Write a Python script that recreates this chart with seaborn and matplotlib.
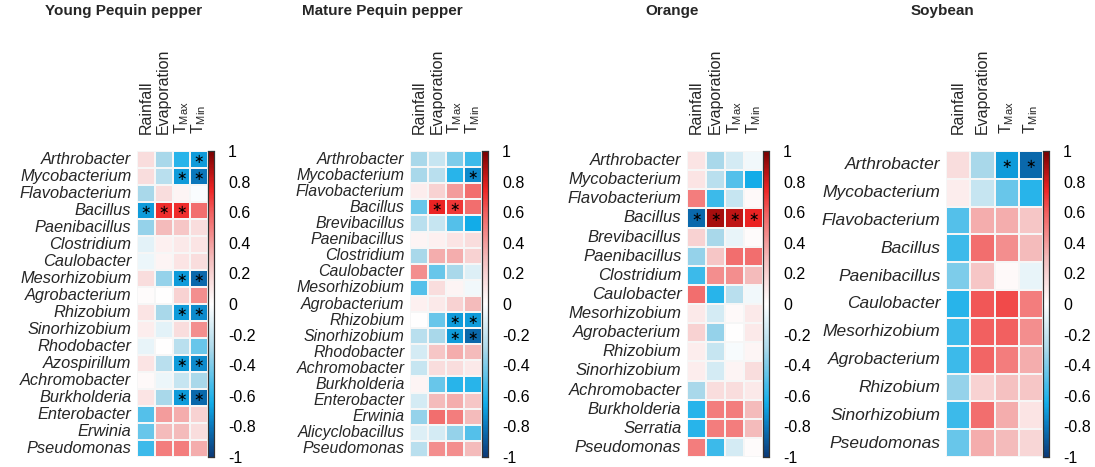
import numpy as np
import pandas as pd
import seaborn as sns
import matplotlib.pyplot as plt
from matplotlib.colors import LinearSegmentedColormap

sns.set_style("white")
plt.rcParams["font.family"] = ["Liberation Sans", "DejaVu Sans"]
plt.rcParams["mathtext.fontset"] = "custom"
plt.rcParams["mathtext.rm"] = "Liberation Sans"

# climate variables (columns)
variables = ["Rainfall", "Evaporation", r"T$_{\mathrm{Max}}$", r"T$_{\mathrm{Min}}$"]

# Young Pequin pepper
young_genera = ["Arthrobacter", "Mycobacterium", "Flavobacterium", "Bacillus", "Paenibacillus",
                "Clostridium", "Caulobacter", "Mesorhizobium", "Agrobacterium", "Rhizobium",
                "Sinorhizobium", "Rhodobacter", "Azospirillum", "Achromobacter", "Burkholderia",
                "Enterobacter", "Erwinia", "Pseudomonas"]
young_vals = [[0.15, -0.30, -0.60, -0.70],
              [0.15, -0.25, -0.70, -0.80],
              [-0.30, 0.15, 0.05, -0.02],
              [-0.70, 0.72, 0.72, 0.55],
              [-0.35, 0.30, 0.25, 0.15],
              [-0.10, 0.07, 0.10, 0.12],
              [-0.07, 0.05, 0.12, 0.15],
              [0.15, -0.35, -0.70, -0.85],
              [0.02, 0.00, 0.20, 0.45],
              [0.12, -0.30, -0.70, -0.75],
              [0.08, -0.10, 0.15, 0.45],
              [-0.08, 0.00, -0.25, -0.45],
              [0.12, -0.25, -0.70, -0.75],
              [0.03, -0.07, -0.20, -0.30],
              [0.12, -0.30, -0.70, -0.85],
              [-0.50, 0.40, 0.35, 0.20],
              [-0.45, 0.30, 0.30, 0.15],
              [-0.55, 0.50, 0.50, 0.35]]
young_sig = [[0, 0, 0, 1], [0, 0, 1, 1], [0, 0, 0, 0], [1, 1, 1, 0], [0, 0, 0, 0],
             [0, 0, 0, 0], [0, 0, 0, 0], [0, 0, 1, 1], [0, 0, 0, 0], [0, 0, 1, 1],
             [0, 0, 0, 0], [0, 0, 0, 0], [0, 0, 1, 1], [0, 0, 0, 0], [0, 0, 1, 1],
             [0, 0, 0, 0], [0, 0, 0, 0], [0, 0, 0, 0]]

# Mature Pequin pepper
mature_genera = ["Arthrobacter", "Mycobacterium", "Flavobacterium", "Bacillus", "Brevibacillus",
                 "Paenibacillus", "Clostridium", "Caulobacter", "Mesorhizobium", "Agrobacterium",
                 "Rhizobium", "Sinorhizobium", "Rhodobacter", "Achromobacter", "Burkholderia",
                 "Enterobacter", "Erwinia", "Alicyclobacillus", "Pseudomonas"]
mature_vals = [[-0.30, -0.20, -0.40, -0.55],
               [-0.30, -0.25, -0.60, -0.75],
               [0.08, 0.20, 0.40, 0.55],
               [-0.45, 0.75, 0.70, 0.55],
               [-0.25, -0.20, -0.50, -0.65],
               [0.05, 0.07, 0.12, 0.15],
               [-0.30, 0.35, 0.35, 0.20],
               [0.45, -0.45, -0.30, -0.12],
               [-0.50, 0.15, 0.05, -0.05],
               [0.07, 0.10, 0.20, 0.30],
               [0.00, -0.45, -0.70, -0.70],
               [-0.25, -0.30, -0.70, -0.85],
               [-0.15, 0.25, 0.35, 0.30],
               [-0.20, 0.15, 0.15, 0.10],
               [0.05, -0.45, -0.60, -0.60],
               [-0.15, 0.30, 0.35, 0.25],
               [-0.35, 0.55, 0.50, 0.30],
               [-0.12, -0.15, -0.35, -0.50],
               [-0.25, 0.45, 0.45, 0.30]]
mature_sig = [[0, 0, 0, 0], [0, 0, 0, 1], [0, 0, 0, 0], [0, 1, 1, 0], [0, 0, 0, 0],
              [0, 0, 0, 0], [0, 0, 0, 0], [0, 0, 0, 0], [0, 0, 0, 0], [0, 0, 0, 0],
              [0, 0, 1, 1], [0, 0, 1, 1], [0, 0, 0, 0], [0, 0, 0, 0], [0, 0, 0, 0],
              [0, 0, 0, 0], [0, 0, 0, 0], [0, 0, 0, 0], [0, 0, 0, 0]]

# Orange
orange_genera = ["Arthrobacter", "Mycobacterium", "Flavobacterium", "Bacillus", "Brevibacillus",
                 "Paenibacillus", "Clostridium", "Caulobacter", "Mesorhizobium", "Agrobacterium",
                 "Rhizobium", "Sinorhizobium", "Achromobacter", "Burkholderia", "Serratia",
                 "Pseudomonas"]
orange_vals = [[0.12, -0.30, -0.15, -0.05],
               [0.12, -0.25, -0.50, -0.65],
               [0.50, -0.55, -0.20, 0.03],
               [-0.85, 0.90, 0.85, 0.75],
               [0.20, -0.30, -0.08, 0.02],
               [-0.35, 0.25, 0.55, 0.55],
               [-0.55, 0.45, 0.45, 0.30],
               [0.55, -0.60, -0.25, -0.05],
               [0.10, -0.15, 0.03, 0.10],
               [0.20, -0.35, 0.00, 0.10],
               [0.08, -0.20, -0.03, 0.04],
               [0.08, -0.15, 0.05, 0.15],
               [-0.30, 0.15, 0.15, 0.10],
               [-0.60, 0.50, 0.50, 0.30],
               [-0.60, 0.50, 0.50, 0.30],
               [0.50, -0.55, -0.15, 0.02]]
orange_sig = [[0, 0, 0, 0], [0, 0, 0, 0], [0, 0, 0, 0], [1, 1, 1, 1], [0, 0, 0, 0],
              [0, 0, 0, 0], [0, 0, 0, 0], [0, 0, 0, 0], [0, 0, 0, 0], [0, 0, 0, 0],
              [0, 0, 0, 0], [0, 0, 0, 0], [0, 0, 0, 0], [0, 0, 0, 0], [0, 0, 0, 0],
              [0, 0, 0, 0]]

# Soybean
soy_genera = ["Arthrobacter", "Mycobacterium", "Flavobacterium", "Bacillus", "Paenibacillus",
              "Caulobacter", "Mesorhizobium", "Agrobacterium", "Rhizobium", "Sinorhizobium",
              "Pseudomonas"]
soy_vals = [[0.15, -0.30, -0.70, -0.85],
            [0.08, -0.20, -0.45, -0.60],
            [-0.50, 0.35, 0.35, 0.25],
            [-0.55, 0.55, 0.45, 0.30],
            [-0.40, 0.25, 0.03, -0.08],
            [-0.60, 0.62, 0.65, 0.50],
            [-0.55, 0.60, 0.60, 0.45],
            [-0.55, 0.58, 0.50, 0.35],
            [-0.35, 0.20, 0.28, 0.25],
            [-0.55, 0.55, 0.35, 0.12],
            [-0.45, 0.35, 0.30, 0.18]]
soy_sig = [[0, 0, 1, 1], [0, 0, 0, 0], [0, 0, 0, 0], [0, 0, 0, 0], [0, 0, 0, 0],
           [0, 0, 0, 0], [0, 0, 0, 0], [0, 0, 0, 0], [0, 0, 0, 0], [0, 0, 0, 0],
           [0, 0, 0, 0]]

titles = ["Young Pequin pepper", "Mature Pequin pepper", "Orange", "Soybean"]

# blue - white - red map, values -1..1 mapped to 0..1
cmap = LinearSegmentedColormap.from_list(
    "bwr_matlab",
    [(0.0, "#0b3a78"), (0.10, "#0a78bc"), (0.175, "#12aeea"), (0.35, "#aad8ea"),
     (0.5, "#ffffff"), (0.65, "#f4bcbc"), (0.80, "#f26060"), (0.875, "#ee2424"),
     (1.0, "#7a0000")])

W, H = 1095, 467
fig = plt.figure(figsize=(W / 100, H / 100), dpi=100)

# pixel boxes: heatmap left, right, colorbar right, title centre x, row label size
boxes = [(137, 208, 214, 124, 11.8),
         (410, 482, 488, 382, 11.4),
         (687, 763, 769, 672, 12.0),
         (946, 1043, 1049, 942, 12.5)]
top, bottom = 151, 457

panels = [(young_genera, young_vals, young_sig),
          (mature_genera, mature_vals, mature_sig),
          (orange_genera, orange_vals, orange_sig),
          (soy_genera, soy_vals, soy_sig)]

for (genera, vals, sig), (x0, x1, x2, tx, fs), title in zip(panels, boxes, titles):
    ax = fig.add_axes([x0 / W, 1 - bottom / H, (x1 - x0) / W, (bottom - top) / H])
    cax = fig.add_axes([x1 / W, 1 - bottom / H, (x2 - x1) / W, (bottom - top) / H])
    df = pd.DataFrame(vals, index=genera, columns=variables)
    stars = np.where(np.array(sig) == 1, "\u2217", "")
    sns.heatmap(df, ax=ax, cbar_ax=cax, cmap=cmap, vmin=-1, vmax=1,
                annot=stars, fmt="",
                annot_kws={"color": "black", "fontsize": 9, "family": "DejaVu Sans"},
                linewidths=0.15, linecolor="#f6f6f6")
    ax.xaxis.tick_top()
    ax.set_xticklabels(variables, rotation=90, fontsize=11.5)
    ax.set_yticklabels(genera, rotation=0, fontsize=fs, style="italic")
    ax.tick_params(axis="x", length=0, pad=12)
    ax.tick_params(axis="y", length=0, pad=4)
    ax.set_xlabel("")
    ax.set_ylabel("")

    ticks = np.round(np.arange(-1, 1.01, 0.2), 1)
    cax.set_yticks(ticks)
    cax.set_yticklabels([f"{t:g}" if t != 0 else "0" for t in ticks], fontsize=11.5)
    cax.tick_params(axis="y", direction="in", length=3, width=0.8, pad=10, colors="#333333",
                    labelcolor="black")
    for s in cax.spines.values():
        s.set_visible(True)
        s.set_edgecolor("#333333")
        s.set_linewidth(0.8)

    fig.text(tx / W, 1 - 11 / H, title, ha="center", va="center",
             fontsize=11, fontweight="bold")

fig.savefig("out.png", dpi=100)
